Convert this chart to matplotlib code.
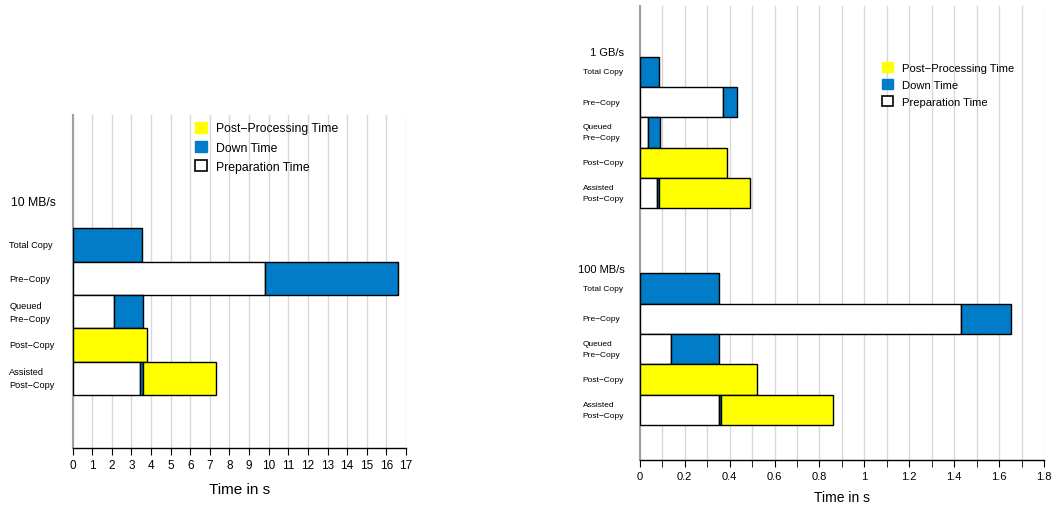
import matplotlib.pyplot as plt
from matplotlib.patches import Patch
from matplotlib.ticker import MultipleLocator

plt.rcParams["font.family"] = ["Liberation Sans", "DejaVu Sans"]

methods = ["Total Copy", "Pre\u2212Copy", "Queued\nPre\u2212Copy", "Post\u2212Copy", "Assisted\nPost\u2212Copy"]

# 10 MB/s
prep_10mb = [0, 9.81, 2.12, 0, 3.45]
down_10mb = [3.55, 6.80, 1.48, 0, 0.15]
post_10mb = [0, 0, 0, 3.77, 3.69]

# 1 GB/s
prep_1gb = [0, 0.371, 0.037, 0, 0.078]
down_1gb = [0.085, 0.061, 0.055, 0, 0.009]
post_1gb = [0, 0, 0, 0.390, 0.403]

# 100 MB/s
prep_100mb = [0, 1.430, 0.141, 0, 0.352]
down_100mb = [0.353, 0.222, 0.212, 0, 0.008]
post_100mb = [0, 0, 0, 0.524, 0.499]

YELLOW = "#FFFF00"
BLUE = "#007CC8"


def draw_group(ax, y0, prep, down, post, title, fs_lab, fs_title, lab_x, title_x,
               title_dy, lsp):
    for i, name in enumerate(methods):
        y = y0 + i
        left = 0
        for w, c in ((prep[i], "white"), (down[i], BLUE), (post[i], YELLOW)):
            if w > 0:
                ax.barh(y, w, left=left, height=1.0, color=c, edgecolor="black",
                        linewidth=1.0, zorder=3)
                left += w
        ax.text(lab_x, y, name, transform=ax.get_yaxis_transform(), ha="left",
                va="center", fontsize=fs_lab, linespacing=lsp)
    ax.text(title_x, y0 - title_dy, title, transform=ax.get_yaxis_transform(),
            ha="right", va="center", fontsize=fs_title)


def style(ax, xmax, major, minor, ylim, fs_tick):
    ax.set_xlim(0, xmax)
    ax.set_ylim(ylim, 0)
    ax.xaxis.set_major_locator(MultipleLocator(major))
    ax.xaxis.set_minor_locator(MultipleLocator(minor))
    ax.grid(True, axis="x", which="both", color="#d8d8d8", linewidth=1.0, zorder=0)
    ax.set_axisbelow(True)
    ax.set_yticks([])
    for s in ("top", "right"):
        ax.spines[s].set_visible(False)
    ax.spines["left"].set_color("#a0a0a0")
    ax.spines["left"].set_linewidth(1.5)
    ax.spines["bottom"].set_linewidth(1.0)
    ax.tick_params(axis="x", which="major", length=5, labelsize=fs_tick, pad=3)
    ax.tick_params(axis="x", which="minor", length=5)


def add_legend(ax, x, y, fs, spacing):
    handles = [
        Patch(facecolor=YELLOW, edgecolor=YELLOW, label="Post\u2212Processing Time"),
        Patch(facecolor=BLUE, edgecolor=BLUE, label="Down Time"),
        Patch(facecolor="white", edgecolor="black", linewidth=1.2, label="Preparation Time"),
    ]
    ax.legend(handles=handles, loc="upper left", bbox_to_anchor=(x, y), frameon=False,
              fontsize=fs, handlelength=0.95, handleheight=0.95, handletextpad=0.8,
              labelspacing=spacing, borderpad=0, borderaxespad=0)


fig = plt.figure(figsize=(10.56, 5.06), dpi=100)

ax1 = fig.add_axes([0.0688, 0.1121, 0.3156, 0.6587])
style(ax1, 17, 1, 1, 10, 8.5)
draw_group(ax1, 3.9, prep_10mb, down_10mb, post_10mb, "10 MB/s", 6.6, 8.8, -0.19, -0.05,
           1.29, 1.6)
ax1.set_xlabel("Time in s", fontsize=11, labelpad=8)
add_legend(ax1, 0.367, 0.979, 8.8, 0.55)

ax2 = fig.add_axes([0.6058, 0.0883, 0.3829, 0.8984])
style(ax2, 1.8, 0.2, 0.1, 15, 8)
ax2.xaxis.set_major_formatter(plt.FuncFormatter(lambda v, p: "%g" % round(v, 1)))
draw_group(ax2, 2.18, prep_1gb, down_1gb, post_1gb, "1 GB/s", 6.0, 8.0, -0.141, -0.038,
           0.64, 1.8)
draw_group(ax2, 9.33, prep_100mb, down_100mb, post_100mb, "100 MB/s", 6.0, 8.0, -0.141, -0.038,
           0.64, 1.8)
ax2.set_xlabel("Time in s", fontsize=10, labelpad=6)
add_legend(ax2, 0.599, 0.876, 8.1, 0.55)

fig.savefig("out.png", dpi=100)
